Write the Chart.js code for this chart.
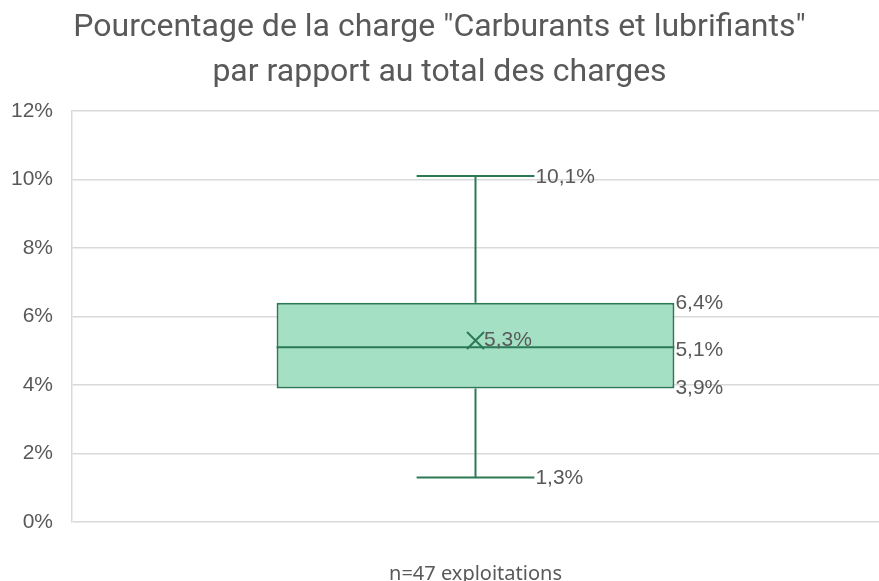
<!DOCTYPE html>
<html>
<head>
<meta charset="utf-8">
<script src="https://cdn.jsdelivr.net/npm/chart.js@4"></script>
<style>
  html, body { margin: 0; padding: 0; background: #fff; }
  #wrap { width: 879px; height: 581px; }
</style>
</head>
<body>
<div id="wrap"><canvas id="boxchart"></canvas></div>
<script>
// données (en %)
const categories = [''];
const minVals = [1.3];
const q1Vals = [3.9];
const medianVals = [5.1];
const q3Vals = [6.4];
const maxVals = [10.1];
const meanVals = [5.3];
const yTickVals = [0, 2, 4, 6, 8, 10, 12];

const green = '#2b7a55';
const fill = 'rgb(164, 225, 196)';
const textGrey = '#595959';

function fmt(v) {
  return v.toFixed(1).replace('.', ',') + '%';
}

// moustaches, médiane, moyenne et étiquettes
const boxExtras = {
  id: 'boxExtras',
  beforeDatasetsDraw(chart) {
    const ctx = chart.ctx;
    const y = chart.scales.y;
    chart.getDatasetMeta(0).data.forEach((bar, i) => {
      const cap = bar.width * 0.148;
      ctx.save();
      ctx.strokeStyle = green;
      ctx.lineWidth = 2;
      ctx.beginPath();
      ctx.moveTo(bar.x, y.getPixelForValue(q3Vals[i]));
      ctx.lineTo(bar.x, y.getPixelForValue(maxVals[i]));
      ctx.moveTo(bar.x - cap, y.getPixelForValue(maxVals[i]));
      ctx.lineTo(bar.x + cap, y.getPixelForValue(maxVals[i]));
      ctx.moveTo(bar.x, y.getPixelForValue(q1Vals[i]));
      ctx.lineTo(bar.x, y.getPixelForValue(minVals[i]));
      ctx.moveTo(bar.x - cap, y.getPixelForValue(minVals[i]));
      ctx.lineTo(bar.x + cap, y.getPixelForValue(minVals[i]));
      ctx.stroke();
      ctx.restore();
    });
  },
  afterDatasetsDraw(chart) {
    const ctx = chart.ctx;
    const y = chart.scales.y;
    chart.getDatasetMeta(0).data.forEach((bar, i) => {
      const half = bar.width / 2;
      const cap = bar.width * 0.148;
      ctx.save();
      ctx.strokeStyle = green;
      ctx.lineWidth = 2;
      // médiane
      const ym = y.getPixelForValue(medianVals[i]);
      ctx.beginPath();
      ctx.moveTo(bar.x - half, ym);
      ctx.lineTo(bar.x + half, ym);
      ctx.stroke();
      // moyenne (croix)
      const yMean = y.getPixelForValue(meanVals[i]);
      const s = 8.5;
      ctx.beginPath();
      ctx.moveTo(bar.x - s, yMean - s);
      ctx.lineTo(bar.x + s, yMean + s);
      ctx.moveTo(bar.x - s, yMean + s);
      ctx.lineTo(bar.x + s, yMean - s);
      ctx.stroke();

      ctx.fillStyle = textGrey;
      ctx.font = '21px "Liberation Sans"';
      ctx.textAlign = 'left';
      ctx.textBaseline = 'middle';
      ctx.fillText(fmt(maxVals[i]), bar.x + cap + 1, y.getPixelForValue(maxVals[i]) + 1);
      ctx.fillText(fmt(minVals[i]), bar.x + cap + 1, y.getPixelForValue(minVals[i]) + 1);
      ctx.fillText(fmt(q3Vals[i]), bar.x + half + 1, y.getPixelForValue(q3Vals[i]));
      ctx.fillText(fmt(medianVals[i]), bar.x + half + 1, ym + 3);
      ctx.fillText(fmt(q1Vals[i]), bar.x + half + 1, y.getPixelForValue(q1Vals[i]));
      ctx.fillText(fmt(meanVals[i]), bar.x + s, yMean);
      ctx.restore();
    });
  }
};

const ctx = document.getElementById('boxchart');

new Chart(ctx, {
  type: 'bar',
  data: {
    labels: categories,
    datasets: [{
      data: categories.map((c, i) => [q1Vals[i], q3Vals[i]]),
      backgroundColor: fill,
      borderColor: green,
      borderWidth: 2,
      borderSkipped: false,
      barPercentage: 0.493,
      categoryPercentage: 1
    }]
  },
  options: {
    responsive: true,
    maintainAspectRatio: false,
    animation: false,
    layout: { padding: { left: 0, right: 0, top: 0, bottom: 0 } },
    plugins: {
      legend: { display: false },
      tooltip: { enabled: false },
      title: {
        display: true,
        text: ['Pourcentage de la charge "Carburants et lubrifiants"', 'par rapport au total des charges'],
        color: textGrey,
        font: { family: 'Roboto', size: 32, weight: 'normal', lineHeight: 1.4 },
        padding: { top: 6, bottom: 15.4 }
      }
    },
    scales: {
      x: {
        grid: { display: false },
        border: { display: false },
        ticks: { display: false },
        title: {
          display: true,
          text: 'n=47 exploitations',
          color: textGrey,
          font: { family: 'Noto Sans', size: 20 },
          padding: { top: 0, bottom: -5 }
        },
        afterFit(scale) { scale.height = 59; }
      },
      y: {
        min: 0,
        max: 12,
        afterBuildTicks(scale) {
          scale.ticks = yTickVals.map(v => ({ value: v }));
        },
        ticks: {
          color: textGrey,
          font: { family: 'Liberation Sans', size: 21 },
          padding: 19,
          callback: v => v + '%'
        },
        grid: { color: '#d9d9d9', lineWidth: 1.5, drawTicks: false },
        border: { display: true, color: '#d9d9d9', width: 1.5 },
        afterFit(scale) { scale.width = 72; }
      }
    }
  },
  plugins: [boxExtras]
});
</script>
</body>
</html>
